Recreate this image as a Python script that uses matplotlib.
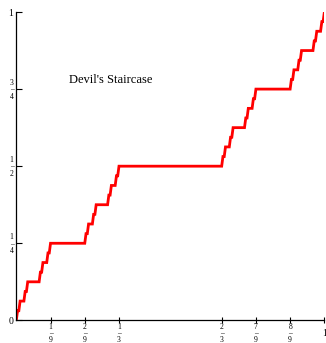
import matplotlib
matplotlib.use("Agg")
import matplotlib.pyplot as plt

plt.rcParams['font.family'] = ['Liberation Serif', 'DejaVu Serif']

# plateaus of the staircase: x range in units of 1/243, height in units of 1/32
plateau_start = [1, 3, 7, 9, 19, 21, 25, 27, 55, 57, 61, 63, 73, 75, 79, 81,
                 163, 165, 169, 171, 181, 183, 187, 189, 217, 219, 223, 225, 235, 237, 241]
plateau_end = [2, 6, 8, 18, 20, 24, 26, 54, 56, 60, 62, 72, 74, 78, 80, 162,
               164, 168, 170, 180, 182, 186, 188, 216, 218, 222, 224, 234, 236, 240, 242]
plateau_level = list(range(1, 32))

xtick_pos = [1/9, 2/9, 1/3, 2/3, 7/9, 8/9, 1]
xtick_labels = ['1\n\u2013\n9', '2\n\u2013\n9', '1\n\u2013\n3', '2\n\u2013\n3',
                '7\n\u2013\n9', '8\n\u2013\n9', '1']
ytick_pos = [0, 1/4, 1/2, 3/4, 1]
ytick_labels = ['0', '1\n\u2013\n4', '1\n\u2013\n2', '3\n\u2013\n4', '1']

xs = [0.0]
ys = [0.0]
for a, b, lv in zip(plateau_start, plateau_end, plateau_level):
    xs += [a / 243, b / 243]
    ys += [lv / 32, lv / 32]
xs.append(1.0)
ys.append(1.0)

fig = plt.figure(figsize=(3.26, 3.43), dpi=100)
ax = fig.add_axes([0.05, 0.066, 0.945, 0.899])
ax.plot(xs, ys, color='#ff0000', lw=2.0, solid_joinstyle='miter')

ax.set_xlim(0, 1)
ax.set_ylim(0, 1)
for s in ['top', 'right']:
    ax.spines[s].set_visible(False)
for s in ['left', 'bottom']:
    ax.spines[s].set_linewidth(0.9)

ax.set_xticks(xtick_pos)
ax.set_xticklabels(xtick_labels)
ax.set_yticks(ytick_pos)
ax.set_yticklabels(ytick_labels)
ax.tick_params(axis='x', direction='inout', length=4, width=0.8, labelsize=5.5, pad=7.5)
ax.tick_params(axis='y', direction='in', length=4, width=0.8, labelsize=5.5, pad=2)
for lab in ax.get_xticklabels():
    lab.set_verticalalignment('center')
    lab.set_linespacing(0.75)
    lab.set_multialignment('center')
for lab in ax.get_yticklabels():
    lab.set_linespacing(0.85)
    lab.set_multialignment('center')
ax.get_xticklabels()[-1].set_fontsize(7)
ax.get_yticklabels()[0].set_fontsize(7)
ax.get_yticklabels()[-1].set_fontsize(7)

ax.text(0.171, 0.78, "Devil's Staircase", fontsize=9, va='center', ha='left')

fig.savefig('out.png', dpi=100)
